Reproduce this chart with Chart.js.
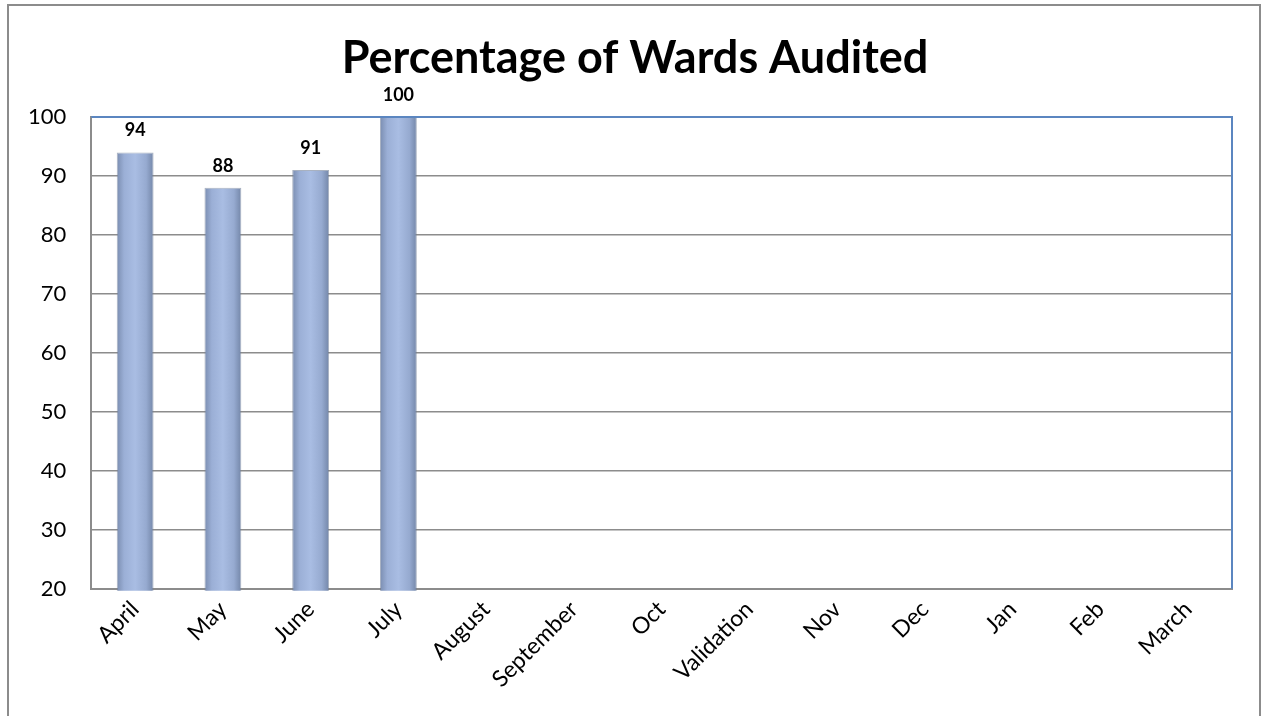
<!DOCTYPE html>
<html>
<head>
<meta charset="utf-8">
<script src="https://cdn.jsdelivr.net/npm/chart.js@4"></script>
<style>
  html, body { margin: 0; padding: 0; background: #fff; }
  #frame { position: absolute; left: 7px; top: 4px; width: 1250px; height: 720px; border: 2px solid #8c8c8c; border-bottom: none; }
  #wrap { position: absolute; left: 0; top: 0; width: 1261px; height: 716px; }
</style>
</head>
<body>
<div id="frame"></div>
<div id="wrap"><canvas id="chart"></canvas></div>
<script>
const months = ['April', 'May', 'June', 'July', 'August', 'September', 'Oct', 'Validation', 'Nov', 'Dec', 'Jan', 'Feb', 'March'];
const audited = [94, 88, 91, 100, 0, 0, 0, 0, 0, 0, 0, 0, 0];
const yTicks = [20, 30, 40, 50, 60, 70, 80, 90, 100];
const chartTitle = 'Percentage of Wards Audited';

const FONT = 'Lato, "Open Sans", sans-serif';
const BAR_PCT = 0.42;

// cylinder-ish shading like the office bar style
function barFill(ctx) {
  const chart = ctx.chart;
  const xs = chart.scales.x;
  if (!chart.chartArea || !xs || ctx.dataIndex === undefined) return '#95a9d0';
  const cx = xs.getPixelForValue(ctx.dataIndex);
  const w = (xs.width / months.length) * BAR_PCT;
  const g = chart.ctx.createLinearGradient(cx - w / 2, 0, cx + w / 2, 0);
  g.addColorStop(0, '#7a8db0');
  g.addColorStop(0.2, '#9bafd6');
  g.addColorStop(0.5, '#a9bde3');
  g.addColorStop(0.8, '#96aad0');
  g.addColorStop(1, '#7386a8');
  return g;
}

const valueLabels = {
  id: 'valueLabels',
  afterDatasetsDraw(chart) {
    const c = chart.ctx;
    const meta = chart.getDatasetMeta(0);
    c.save();
    c.font = 'bold 18px ' + FONT;
    c.fillStyle = '#000';
    c.textAlign = 'center';
    c.textBaseline = 'bottom';
    meta.data.forEach((bar, i) => {
      const v = audited[i];
      if (!v) return;
      c.fillText(String(v), bar.x, bar.y - 13);
    });
    c.restore();
  }
};

// title is centred on the whole frame, not the padded chart box
const frameTitle = {
  id: 'frameTitle',
  afterDraw(chart) {
    const c = chart.ctx;
    c.save();
    c.font = 'bold 45px ' + FONT;
    c.fillStyle = '#000';
    c.textAlign = 'center';
    c.textBaseline = 'middle';
    c.fillText(chartTitle, 635, 58);
    c.restore();
  }
};

const plotBorder = {
  id: 'plotBorder',
  afterDraw(chart) {
    const a = chart.chartArea;
    const c = chart.ctx;
    c.save();
    c.strokeStyle = '#5b86c0';
    c.lineWidth = 2;
    c.beginPath();
    c.moveTo(a.left, a.top);
    c.lineTo(a.right, a.top);
    c.lineTo(a.right, a.bottom);
    c.stroke();
    c.restore();
  }
};

new Chart(document.getElementById('chart'), {
  type: 'bar',
  data: {
    labels: months,
    datasets: [{
      data: audited,
      backgroundColor: barFill,
      borderColor: 'rgba(110,125,150,0.6)',
      borderWidth: 1,
      categoryPercentage: 1,
      barPercentage: BAR_PCT,
      clip: { left: false, top: false, right: false, bottom: 2 }
    }]
  },
  options: {
    responsive: true,
    maintainAspectRatio: false,
    animation: false,
    layout: { padding: { left: 3, right: 29, top: 117, bottom: 16 } },
    plugins: {
      legend: { display: false },
      tooltip: { enabled: false },
      title: { display: false }
    },
    scales: {
      x: {
        grid: { display: false, drawTicks: false },
        border: { color: '#8c8c8c', width: 2 },
        ticks: {
          color: '#000',
          font: { family: FONT, size: 23 },
          maxRotation: 45,
          minRotation: 45,
          autoSkip: false,
          padding: 7
        }
      },
      y: {
        min: 20,
        max: 100,
        afterBuildTicks(axis) { axis.ticks = yTicks.map(v => ({ value: v })); },
        grid: { color: '#8c8c8c', lineWidth: 1.5, drawTicks: false },
        border: { color: '#8c8c8c', width: 2 },
        ticks: {
          color: '#000',
          font: { family: FONT, size: 22 },
          padding: 25
        }
      }
    }
  },
  plugins: [valueLabels, plotBorder, frameTitle]
});
</script>
</body>
</html>
